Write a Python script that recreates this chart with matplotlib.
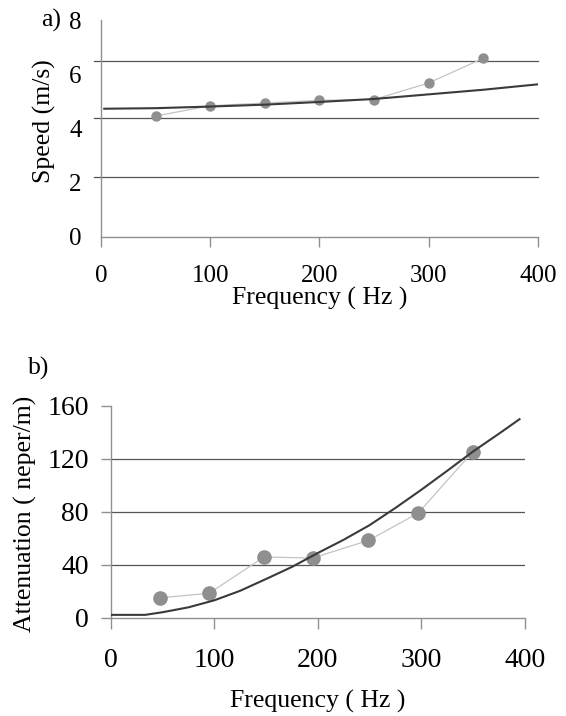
import numpy as np
import matplotlib.pyplot as plt

plt.rcParams['font.family'] = ['Liberation Serif', 'DejaVu Serif']

# --- panel a: speed ---
freq_a = [50, 100, 150, 200, 250, 300, 350]
speed_meas = [4.46, 4.84, 4.94, 5.04, 5.07, 5.68, 6.59]
freq_a_fit = [3, 50, 100, 150, 200, 250, 300, 350, 400]
speed_fit = [4.73, 4.75, 4.81, 4.88, 4.98, 5.09, 5.26, 5.43, 5.63]
speed_grid = [2.2, 4.4, 6.5]

# --- panel b: attenuation ---
freq_b = [47, 95, 148, 195, 249, 297, 350]
atten_meas = [15.1, 18.6, 46.0, 45.2, 58.5, 79.1, 125.6]
freq_b_fit = [0, 33, 50, 75, 100, 125, 150, 175, 200, 225, 250, 275, 300, 325, 350, 375, 395]
atten_fit = [2.3, 2.3, 4.3, 8.0, 13.3, 20.5, 29.4, 38.5, 49.0, 59.0, 70.0, 83.0, 96.7, 111.0, 125.6, 139.0, 150.0]

fs_lab = 18.5
pt_col = '#8f8f8f'
con_col = '#c4c4c4'
fit_col = '#3a3a3a'
grid_col = '#555555'
spine_col = '#909090'

fig = plt.figure(figsize=(5.66, 7.16), dpi=100)

def style(ax, fs_tick):
    for s in ['top', 'right']:
        ax.spines[s].set_visible(False)
    for s in ['left', 'bottom']:
        ax.spines[s].set_color(spine_col)
        ax.spines[s].set_linewidth(1.0)
    ax.tick_params(which='both', colors=spine_col, labelcolor='black',
                   labelsize=fs_tick, width=1.0)

# panel a
ax1 = fig.add_axes([0.1784, 0.669, 0.772, 0.303])
style(ax1, 18)
for g in speed_grid:
    ax1.axhline(g, xmin=-0.015, xmax=1.0, color=grid_col, lw=0.9, zorder=1, clip_on=False)
ax1.plot(freq_a, speed_meas, color=con_col, lw=0.9, zorder=2)
ax1.plot(freq_a, speed_meas, 'o', color=pt_col, ms=6.5, zorder=3)
ax1.plot(freq_a_fit, speed_fit, color=fit_col, lw=1.5, zorder=4)
ax1.set_xlim(0, 400)
ax1.set_ylim(0, 8)
ax1.set_xticks([0, 100, 200, 300, 400])
ax1.set_yticks([0, 2, 4, 6, 8])
ax1.set_yticks([0, 8], minor=True)
ax1.tick_params(axis='x', length=7, pad=13)
ax1.tick_params(axis='y', which='major', length=0, pad=14)
ax1.tick_params(axis='y', which='minor', length=8)
ax1.set_xlabel('Frequency ( Hz )', fontsize=fs_lab, labelpad=0)
ax1.set_ylabel('Speed (m/s)', fontsize=fs_lab)
ax1.yaxis.set_label_coords(-0.102, 0.535)
fig.text(0.072, 0.971, 'a)', fontsize=fs_lab, va='center', ha='left')

# panel b
ax2 = fig.add_axes([0.196, 0.137, 0.731, 0.296])
style(ax2, 20)
for g in [40, 80, 120]:
    ax2.axhline(g, color=grid_col, lw=0.9, zorder=1)
ax2.plot(freq_b, atten_meas, color=con_col, lw=0.9, zorder=2)
ax2.plot(freq_b, atten_meas, 'o', color=pt_col, ms=9.5, zorder=3)
ax2.plot(freq_b_fit, atten_fit, color=fit_col, lw=1.5, zorder=4)
ax2.set_xlim(0, 400)
ax2.set_ylim(0, 160)
ax2.set_xticks([0, 100, 200, 300, 400])
ax2.set_yticks([0, 40, 80, 120, 160])
ax2.tick_params(axis='x', length=8, pad=14)
ax2.tick_params(axis='y', length=7, pad=9)
ax2.set_xlabel('Frequency ( Hz )', fontsize=fs_lab, labelpad=12)
ax2.set_ylabel('Attenuation ( neper/m)', fontsize=fs_lab)
ax2.yaxis.set_label_coords(-0.178, 0.49)
fig.text(0.05, 0.486, 'b)', fontsize=fs_lab, va='center', ha='left')

fig.savefig('out.png', dpi=100)
